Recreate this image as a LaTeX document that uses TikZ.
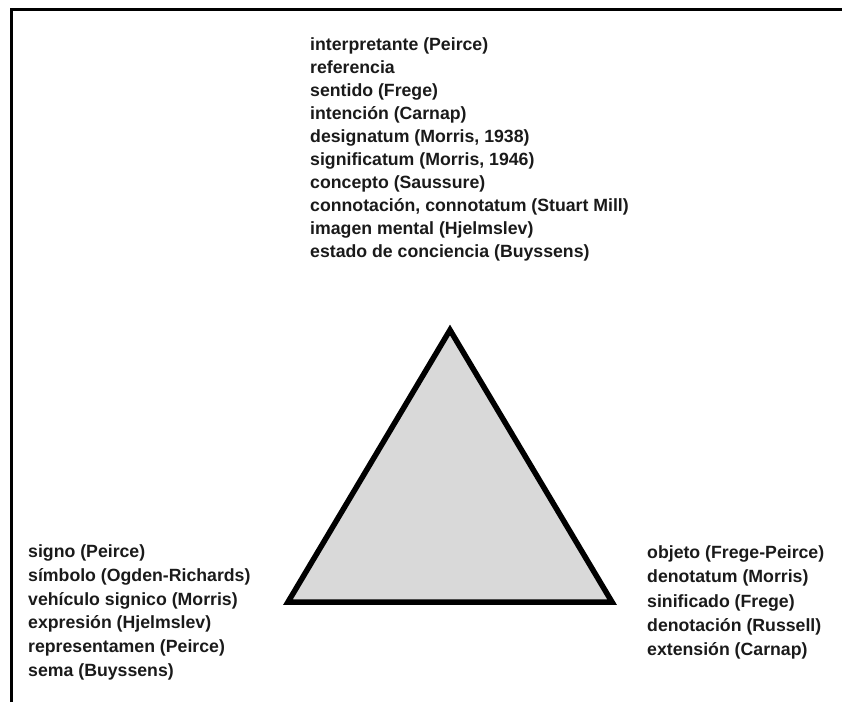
\documentclass[tikz,border=0pt]{standalone}
\usepackage{fontspec}
\setmainfont{Liberation Sans}
\definecolor{ink}{HTML}{1A1A1A}
\definecolor{trifill}{HTML}{D9D9D9}
\tikzset{
  % multi-line nodes are anchored at the baseline of their last line
  termlist/.style={anchor=base west, inner sep=0pt, align=left, text=ink,
    font=\bfseries\fontsize{17.7}{#1}\selectfont},
  frameline/.style={line width=3pt, draw=black},
  triangleedge/.style={line width=5.5pt, draw=black, fill=trifill, line join=miter}
}
\begin{document}
\begin{tikzpicture}[x=1pt,y=-1pt]
\useasboundingbox (0,0) rectangle (842,702);
% frame (top and left edges)
\coordinate (fbl) at (11,702);
\coordinate (ftl) at (11,9.5);
\coordinate (ftr) at (842,9.5);
\draw[frameline] (fbl) -- (ftl) -- (ftr);
% semiotic triangle
\coordinate (apex) at (450,330);
\coordinate (bl) at (288,602);
\coordinate (br) at (612,602);
\draw[triangleedge] (apex) -- (bl) -- (br) -- cycle;
% term lists
\node[termlist=23] (top) at (310,257.5) {interpretante (Peirce)\\
referencia\\
sentido (Frege)\\
intención (Carnap)\\
designatum (Morris, 1938)\\
significatum (Morris, 1946)\\
concepto (Saussure)\\
connotación, connotatum (Stuart Mill)\\
imagen mental (Hjelmslev)\\
estado de conciencia (Buyssens)};
\node[termlist=23.8] (left) at (28,676.5) {signo (Peirce)\\
símbolo (Ogden-Richards)\\
vehículo signico (Morris)\\
expresión (Hjelmslev)\\
representamen (Peirce)\\
sema (Buyssens)};
\node[termlist=24.25] (right) at (647,655.5) {objeto (Frege-Peirce)\\
denotatum (Morris)\\
sinificado (Frege)\\
denotación (Russell)\\
extensión (Carnap)};
\end{tikzpicture}
\end{document}
